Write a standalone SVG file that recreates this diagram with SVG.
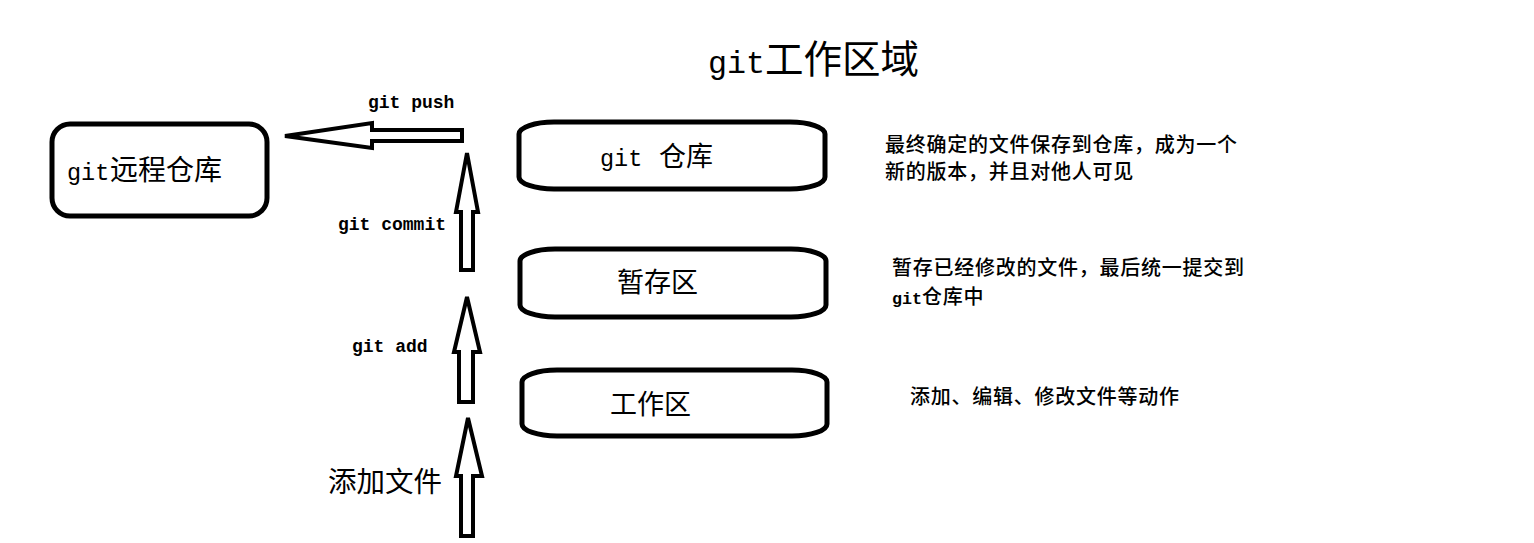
<svg xmlns="http://www.w3.org/2000/svg" width="1534" height="543" viewBox="0 0 1534 543">
<style>
.box{fill:#fff;stroke:#000;stroke-width:5}
.arr{fill:#fff;stroke:#000;stroke-width:4;stroke-linejoin:miter}
.cjk{font-family:"Noto Sans CJK SC","Noto Sans CJK JP",sans-serif;fill:#000}
.lat{font-family:"Liberation Mono","DejaVu Sans Mono",monospace;fill:#000}
.lbl{font-weight:bold}
.note{font-family:"Noto Sans CJK SC","Noto Sans CJK JP",sans-serif;font-size:20px;font-weight:500;letter-spacing:0.75px;fill:#000}
</style>
<rect width="1534" height="543" fill="#fff"/>
<g id="title">
<text y="73"><tspan class="lat" x="708" font-size="31.7">git</tspan><tspan class="cjk" x="765" font-size="38.5">工作区域</tspan></text>
</g>
<g id="connectors">
<polygon class="arr" points="285,136 372,123 372,130 462,130 462,141 372,141 372,148"/>
<polygon class="arr" points="467,153 478,212 473,212 473,270 461,270 461,212 456,212"/>
<polygon class="arr" points="467,297 480,352 473,352 473,402 459,402 459,352 454,352"/>
<polygon class="arr" points="468,418 482,476 473,476 473,536 461,536 461,476 456,476"/>
<text class="lat lbl" x="368" y="108" font-size="18">git push</text>
<text class="lat lbl" x="338" y="230" font-size="18">git commit</text>
<text class="lat lbl" x="352" y="352" font-size="18">git add</text>
<text class="cjk" x="328" y="492" font-size="28.5">添加文件</text>
</g>
<g id="remote">
<rect class="box" x="52" y="124" width="215" height="92" rx="18" ry="18"/>
<text y="180"><tspan class="lat" x="67" font-size="23.5">git</tspan><tspan class="cjk" x="110" font-size="28">远程仓库</tspan></text>
</g>
<g id="repo">
<rect class="box" x="519" y="122" width="306" height="67" rx="35" ry="12"/>
<text y="166"><tspan class="lat" x="600" font-size="23.5">git</tspan><tspan class="cjk" x="659" font-size="27">仓库</tspan></text>
</g>
<g id="stage">
<rect class="box" x="520" y="249" width="306" height="68" rx="35" ry="12"/>
<text class="cjk" x="617" y="291.5" font-size="27">暂存区</text>
</g>
<g id="work">
<rect class="box" x="522" y="370" width="305" height="66" rx="35" ry="12"/>
<text class="cjk" x="610" y="414" font-size="27">工作区</text>
</g>
<g id="notes">
<text class="note" x="885" y="152">最终确定的文件保存到仓库，成为一个</text>
<text class="note" x="885" y="179">新的版本，并且对他人可见</text>
<text class="note" x="892" y="275">暂存已经修改的文件，最后统一提交到</text>
<text y="304"><tspan class="lat lbl" x="892" font-size="16.7">git</tspan><tspan class="note" x="922">仓库中</tspan></text>
<text class="note" x="910" y="404">添加、编辑、修改文件等动作</text>
</g>
</svg>
